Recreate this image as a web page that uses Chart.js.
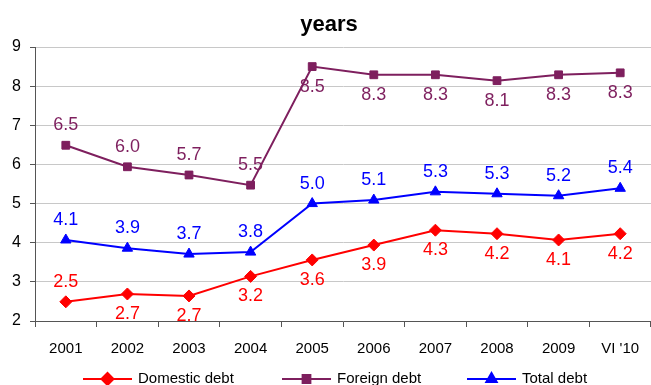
<!DOCTYPE html>
<html>
<head>
<meta charset="utf-8">
<script src="https://cdn.jsdelivr.net/npm/chart.js@4/dist/chart.umd.min.js"></script>
<style>
  html, body { margin: 0; padding: 0; background: #fff; }
  #wrap { width: 651px; height: 385px; }
</style>
</head>
<body>
<div id="wrap"><canvas id="debtChart" width="651" height="385"></canvas></div>
<script>
// data
const years = ['2001', '2002', '2003', '2004', '2005', '2006', '2007', '2008', '2009', "VI '10"];
const domesticDebt = [2.49, 2.69, 2.64, 3.14, 3.56, 3.94, 4.32, 4.23, 4.07, 4.23];
const foreignDebt = [6.49, 5.94, 5.73, 5.47, 8.5, 8.29, 8.29, 8.14, 8.29, 8.34];
const totalDebt = [4.07, 3.86, 3.71, 3.76, 5.0, 5.09, 5.3, 5.25, 5.2, 5.39];
// value labels as printed on the chart
const domesticLabels = ['2.5', '2.7', '2.7', '3.2', '3.6', '3.9', '4.3', '4.2', '4.1', '4.2'];
const foreignLabels = ['6.5', '6.0', '5.7', '5.5', '8.5', '8.3', '8.3', '8.1', '8.3', '8.3'];
const totalLabels = ['4.1', '3.9', '3.7', '3.8', '5.0', '5.1', '5.3', '5.3', '5.2', '5.4'];
// where each label sits: 1 = above the point, -1 = below
const domesticSide = [1, -1, -1, -1, -1, -1, -1, -1, -1, -1];
const foreignSide = [1, 1, 1, 1, -1, -1, -1, -1, -1, -1];
const totalSide = [1, 1, 1, 1, 1, 1, 1, 1, 1, 1];

const RED = '#ff0000';
const PURPLE = '#7e1f5e';
const BLUE = '#0000ff';
const FONT = "'Liberation Sans', Arial, sans-serif";

// draws value labels, the title and the legend
const decorPlugin = {
  id: 'decor',
  afterDatasetsDraw(chart) {
    const ctx = chart.ctx;
    ctx.save();
    ctx.font = '18px ' + FONT;
    ctx.textAlign = 'center';
    ctx.textBaseline = 'middle';
    chart.data.datasets.forEach((ds, i) => {
      const meta = chart.getDatasetMeta(i);
      meta.data.forEach((pt, j) => {
        ctx.fillStyle = ds.borderColor;
        const off = ds.labelSide[j] > 0 ? 20 : -20;
        ctx.fillText(ds.valueLabels[j], pt.x, pt.y - off);
      });
    });

    // title
    ctx.fillStyle = '#000';
    ctx.font = 'bold 22px ' + FONT;
    ctx.fillText('years', 329, 25);

    // legend
    const items = [
      { ds: 0, x: 83 },
      { ds: 1, x: 282 },
      { ds: 2, x: 467 }
    ];
    const ly = 379;
    ctx.font = '15px ' + FONT;
    ctx.textAlign = 'left';
    items.forEach(it => {
      const ds = chart.data.datasets[it.ds];
      ctx.strokeStyle = ds.borderColor;
      ctx.lineWidth = 2;
      ctx.beginPath();
      ctx.moveTo(it.x, ly);
      ctx.lineTo(it.x + 49, ly);
      ctx.stroke();
      Chart.helpers.drawPoint(ctx, {
        pointStyle: ds.pointStyle,
        radius: ds.pointRadius,
        borderWidth: 1
      }, it.x + 24.5, ly);
      ctx.fillStyle = ds.borderColor;
      ctx.fill();
      ctx.fillStyle = '#000';
      ctx.fillText(ds.label, it.x + 55, ly);
    });
    ctx.restore();
  }
};

function makeSet(label, values, color, style, radius, texts, side) {
  return {
    label: label,
    data: values,
    borderColor: color,
    backgroundColor: color,
    borderWidth: 2,
    pointStyle: style,
    pointRadius: radius,
    pointBorderWidth: 1,
    pointHoverRadius: radius,
    tension: 0,
    valueLabels: texts,
    labelSide: side
  };
}

const ctx = document.getElementById('debtChart').getContext('2d');
new Chart(ctx, {
  type: 'line',
  data: {
    labels: years,
    datasets: [
      makeSet('Domestic debt', domesticDebt, RED, 'rectRot', 6, domesticLabels, domesticSide),
      makeSet('Foreign debt', foreignDebt, PURPLE, 'rect', 5.5, foreignLabels, foreignSide),
      makeSet('Total debt', totalDebt, BLUE, 'triangle', 6, totalLabels, totalSide)
    ]
  },
  options: {
    responsive: false,
    animation: false,
    events: [],
    layout: {
      autoPadding: false,
      padding: { top: 47, right: -2, bottom: 24, left: 0 }
    },
    plugins: {
      legend: { display: false },
      title: { display: false },
      tooltip: { enabled: false }
    },
    scales: {
      x: {
        offset: true,
        grid: {
          offset: true,
          drawOnChartArea: false,
          drawTicks: true,
          tickLength: 6,
          color: '#555'
        },
        border: { color: '#555', width: 1 },
        ticks: {
          color: '#000',
          padding: 13,
          maxRotation: 0,
          autoSkip: false,
          font: { family: FONT, size: 15 }
        },
        afterFit(scale) {
          scale.height = 40;
          scale.paddingLeft = 0;
          scale.paddingRight = 0;
        }
      },
      y: {
        min: 2,
        max: 9,
        grid: {
          color: '#c8c8c8',
          lineWidth: 1,
          drawTicks: true,
          tickLength: 5,
          tickColor: '#555'
        },
        border: { color: '#555', width: 1 },
        ticks: {
          stepSize: 1,
          color: '#000',
          padding: 9,
          font: { family: FONT, size: 16 }
        },
        afterFit(scale) { scale.width = 35; }
      }
    }
  },
  plugins: [decorPlugin]
});
</script>
</body>
</html>
